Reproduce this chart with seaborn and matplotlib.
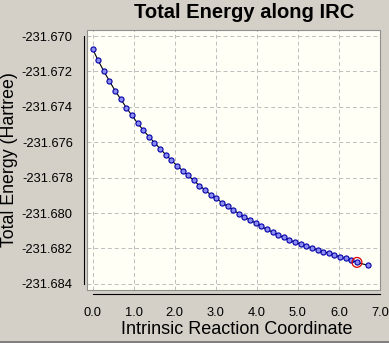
import matplotlib
matplotlib.use("Agg")
import matplotlib.pyplot as plt
import seaborn as sns
import pandas as pd
import numpy as np
from matplotlib.patches import Rectangle
from matplotlib.ticker import MultipleLocator, FormatStrFormatter

# ---- data ----
reaction_coord = [0.000, 0.137, 0.274, 0.411, 0.548, 0.685, 0.822, 0.959, 1.096, 1.233,
                  1.370, 1.507, 1.644, 1.781, 1.918, 2.055, 2.192, 2.329, 2.466, 2.603,
                  2.740, 2.877, 3.014, 3.151, 3.288, 3.425, 3.562, 3.699, 3.836, 3.973,
                  4.110, 4.247, 4.384, 4.521, 4.658, 4.795, 4.932, 5.069, 5.206, 5.343,
                  5.480, 5.617, 5.754, 5.891, 6.028, 6.165, 6.302, 6.439, 6.713]
total_energy = [-231.67071, -231.67138, -231.67198, -231.67254, -231.67308, -231.67356,
                -231.67404, -231.67449, -231.67492, -231.67531, -231.67568, -231.67602,
                -231.67636, -231.67670, -231.67701, -231.67732, -231.67760, -231.67788,
                -231.67816, -231.67845, -231.67870, -231.67896, -231.67918, -231.67941,
                -231.67963, -231.67983, -231.68003, -231.68023, -231.68040, -231.68057,
                -231.68076, -231.68093, -231.68108, -231.68124, -231.68138, -231.68153,
                -231.68165, -231.68177, -231.68188, -231.68198, -231.68208, -231.68218,
                -231.68228, -231.68237, -231.68248, -231.68257, -231.68267, -231.68279,
                -231.68296]
highlight_x = [6.439]
highlight_y = [-231.68279]

title = "Total Energy along IRC"
x_label = "Intrinsic Reaction Coordinate"
y_label = "Total Energy (Hartree)"

df = pd.DataFrame({"x": reaction_coord, "y": total_energy})
hl = pd.DataFrame({"x": highlight_x, "y": highlight_y})

sns.set_style("white")
plt.rcParams["font.family"] = ["Liberation Sans", "DejaVu Sans"]

BG = "#D4D0C8"
fig = plt.figure(figsize=(3.89, 3.43), dpi=100, facecolor=BG)
W, H = 389, 343
left, right, top, bottom = 87, 380, 30, 290
ax = fig.add_axes([left / W, 1 - bottom / H, (right - left) / W, (bottom - top) / H])
ax.set_facecolor("#FFFFF5")

sns.lineplot(data=df, x="x", y="y", ax=ax, color="black", linewidth=0.8,
             marker="o", markersize=3.7, markerfacecolor="#8C8CF2",
             markeredgecolor="#0000A8", markeredgewidth=0.8, zorder=3)
sns.scatterplot(data=hl, x="x", y="y", ax=ax, s=50, facecolor="none",
                edgecolor="#E00000", linewidth=0.9, zorder=4)

ax.set_xlim(-0.134, 7.0)
ax.set_ylim(-231.68435, -231.66966)

ax.xaxis.set_major_locator(MultipleLocator(1.0))
ax.xaxis.set_minor_locator(MultipleLocator(0.1))
ax.yaxis.set_major_locator(MultipleLocator(0.002))
ax.yaxis.set_minor_locator(MultipleLocator(0.001))
ax.xaxis.set_major_formatter(FormatStrFormatter("%.1f"))
ax.yaxis.set_major_formatter(FormatStrFormatter("%.3f"))

ax.grid(True, which="major", linestyle=(0, (4, 3)), color="#BDBDBD", linewidth=0.7)
ax.set_axisbelow(True)

for s in ["top", "right"]:
    ax.spines[s].set_visible(False)
ax.spines["left"].set_position(("outward", 2.2))
ax.spines["bottom"].set_position(("outward", 3.2))
ax.spines["left"].set_bounds(-231.684, -231.670)
ax.spines["bottom"].set_bounds(0.0, 7.0)
for s in ["left", "bottom"]:
    ax.spines[s].set_color("black")
    ax.spines[s].set_linewidth(0.8)

ax.tick_params(axis="both", which="both", direction="out", color="black",
               width=0.7, labelsize=9.3, labelcolor="black")
ax.tick_params(axis="y", which="major", length=5.5, pad=2.5)
ax.tick_params(axis="y", which="minor", length=5.5)
ax.tick_params(axis="x", which="major", length=4, pad=5)
ax.tick_params(axis="x", which="minor", length=2.5)
ax.set_xlabel("")
ax.set_ylabel("")

# plot-area frame
ax.add_patch(Rectangle((0, 0), 1, 1, transform=ax.transAxes, fill=False,
                       edgecolor="#909090", linewidth=0.8, clip_on=False, zorder=5))

fig.text(244 / W, 1 - 13 / H, title, ha="center", va="center",
         fontsize=14.5, fontweight="bold", color="black")
fig.text(237 / W, 1 - 330 / H, x_label, ha="center", va="center",
         fontsize=13, color="black")
fig.text(10 / W, 1 - 160 / H, y_label, ha="center", va="center",
         rotation=90, fontsize=12.8, color="black")

fig.add_artist(Rectangle((0, 0), 1, 2 / H, transform=fig.transFigure,
                         facecolor="#808080", edgecolor="none"))

fig.savefig("out.png", dpi=100, facecolor=BG)
